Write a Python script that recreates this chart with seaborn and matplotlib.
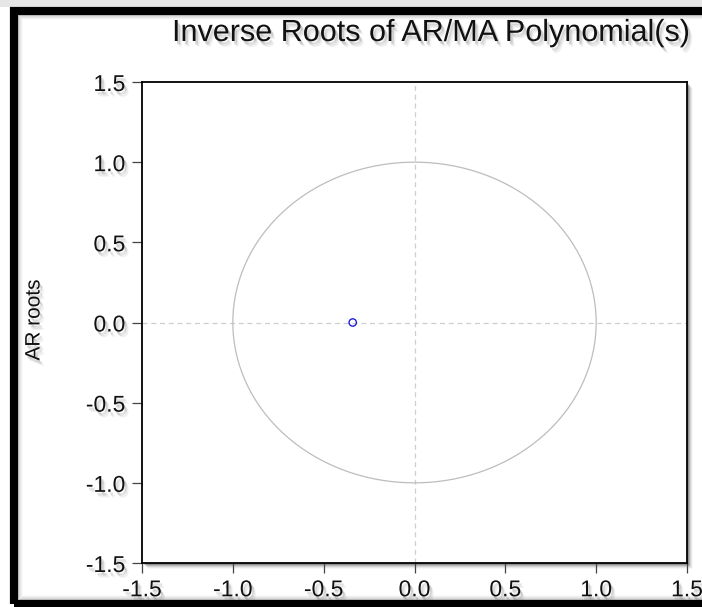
import matplotlib
matplotlib.use("Agg")
import matplotlib.pyplot as plt
import matplotlib.patheffects as pe
from matplotlib.patches import Rectangle, Circle
import seaborn as sns
import pandas as pd

# ---- data ----
root_real = [-0.34]
root_imag = [0.0]
tick_values = [-1.5, -1.0, -0.5, 0.0, 0.5, 1.0, 1.5]
tick_labels = ["-1.5", "-1.0", "-0.5", "0.0", "0.5", "1.0", "1.5"]
title_text = "Inverse Roots of AR/MA Polynomial(s)"
ylabel_text = "AR roots"

sns.set_theme(style="white")
plt.rcParams['font.family'] = ['Liberation Sans', 'DejaVu Sans']

W, H = 702, 607
fig = plt.figure(figsize=(W / 100, H / 100), dpi=100)
fig.patch.set_facecolor("white")

def fx(px):
    return px / W

def fy(py):
    return 1 - py / H

# figure frame: soft shadow inside, thick black band
for i, a in enumerate([0.12, 0.09, 0.06, 0.04, 0.02]):
    fig.patches.append(Rectangle((fx(18 + i), fy(600 - i)), fx(760), fy(15 + i) - fy(600 - i),
                                 transform=fig.transFigure, fill=False,
                                 edgecolor=(0, 0, 0, a), linewidth=1.4, zorder=0))
fig.patches.append(Rectangle((fx(0), fy(7)), 1, fy(0) - fy(7), transform=fig.transFigure,
                             facecolor="#e6e6e6", edgecolor="none", zorder=0))
fig.patches.append(Rectangle((fx(14), fy(604)), fx(760), fy(11) - fy(604),
                             transform=fig.transFigure, fill=False, edgecolor="black",
                             linewidth=5.9, zorder=1))

left, right, top, bottom = 142, 687, 82, 563
ax = fig.add_axes([fx(left), fy(bottom), fx(right) - fx(left), fy(top) - fy(bottom)])
ax.set_zorder(3)

# axes drop shadow (drawn beneath the axes)
for i, a in enumerate([0.20, 0.14, 0.09, 0.06, 0.03]):
    fig.patches.append(Rectangle((fx(left + 2 + i), fy(bottom + 2 + i)),
                                 fx(right - left), fy(top) - fy(bottom),
                                 transform=fig.transFigure, facecolor=(0, 0, 0, a),
                                 edgecolor="none", zorder=0.5))

ax.set_facecolor("white")
ax.set_xlim(-1.5, 1.5)
ax.set_ylim(-1.5, 1.5)

ax.axhline(0, color="#cfcfcf", lw=0.9, ls=(0, (4, 3)), zorder=1)
ax.axvline(0, color="#cfcfcf", lw=0.9, ls=(0, (4, 3)), zorder=1)
ax.add_patch(Circle((0, 0), 1.0, fill=False, edgecolor="#bdbdbd", lw=0.9, zorder=2))

df = pd.DataFrame({"real": root_real, "imag": root_imag})
sns.scatterplot(data=df, x="real", y="imag", ax=ax, marker="o", s=28,
                facecolor="none", edgecolor="#1f1fe0", linewidth=1.0, zorder=3)

shadow = [pe.SimplePatchShadow(offset=(dx, dy), shadow_rgbFace="black", alpha=a)
          for (dx, dy, a) in [(3, -4, 0.06), (2, -3, 0.08), (1.5, -2, 0.10)]] + [pe.Normal()]

ax.set_xticks(tick_values)
ax.set_yticks(tick_values)
ax.set_xticklabels(tick_labels, fontsize=16.5, color="#111111")
ax.set_yticklabels(tick_labels, fontsize=16.5, color="#111111")
for t in ax.get_xticklabels() + ax.get_yticklabels():
    t.set_path_effects(shadow)
ax.tick_params(axis="both", which="both", direction="out", length=7, width=0.9,
               color="#444444", left=True, bottom=True, top=False, right=False)
ax.tick_params(axis="x", pad=4)
ax.tick_params(axis="y", pad=5)
ax.set_xlabel("")
ax.set_ylabel("")

for s in ax.spines.values():
    s.set_color("black")
    s.set_linewidth(1.3)
    s.set_visible(True)

fig.text(fx(34), fy(320), ylabel_text, fontsize=15, color="#111111", rotation=90,
         ha="center", va="center", path_effects=shadow)
fig.text(fx(172), fy(33), title_text, fontsize=22, color="#111111",
         ha="left", va="center", path_effects=shadow)

fig.savefig("out.png", dpi=100)
